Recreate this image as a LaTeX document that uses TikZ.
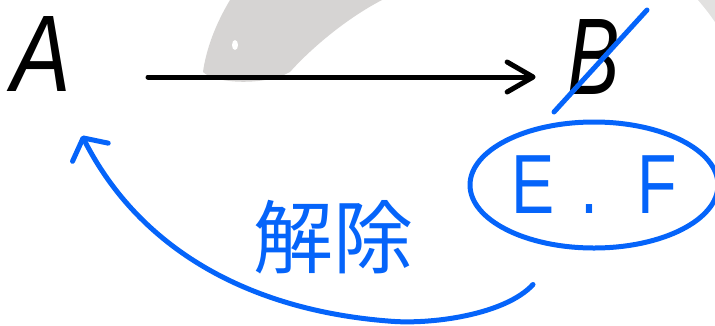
\documentclass[tikz,border=0pt]{standalone}
\usepackage{fontspec}
\setmainfont{Liberation Sans}
\newfontfamily\cjkfont{Noto Sans CJK JP}
\usetikzlibrary{arrows.meta,shapes.geometric,calc}
\definecolor{penblue}{RGB}{5,100,250}
\definecolor{bggrey}{RGB}{214,212,211}
\begin{document}
\begin{tikzpicture}[x=1pt,y=-1pt,
  pen/.style={line width=5pt, line cap=round, line join=round},
  bigletter/.style={inner sep=0pt, font=\itshape\fontsize{109}{109}\selectfont},
  barb/.style={-{Straight Barb[length=26pt,width=30pt,round]}}]
\useasboundingbox (0,0) rectangle (715,325);
% faint grey background shapes
\fill[bggrey] (230,0) .. controls (215,25) and (206,50) .. (203,72)
  .. controls (215,84) and (265,86) .. (290,72)
  .. controls (305,55) and (340,22) .. (382,0) -- cycle;
\fill[white] (235,45) ellipse [x radius=3, y radius=5];
\fill[bggrey!70] (698,0) -- (715,0) -- (715,22) .. controls (708,12) .. cycle;
% nodes
\node[bigletter] (A) at (41,54) {\scalebox{0.82}[1]{A}};
\node[bigletter] (B) at (594,57) {\scalebox{0.72}[1]{B}};
\node[ellipse, draw=penblue, line width=5pt, minimum width=248pt, minimum height=126pt,
      inner sep=0pt, text=penblue, font=\fontsize{84}{84}\selectfont] (EF) at (594,185)
      {\scalebox{0.77}[1]{E\hspace{34pt}.\hspace{50pt}F}};
\node[inner sep=0pt, text=penblue, font=\cjkfont\fontsize{80}{80}\selectfont] (L) at (333,237) {解除};
% strike through B
\coordinate (s1) at (554,112);
\coordinate (s2) at (647,10);
\draw[pen, penblue] (s1) -- (s2);
% A -> B
\draw[pen, barb] ([shift={(77,23)}]A.east) -- ([shift={(-32,20)}]B.west);
% E.F -> A
\draw[pen, penblue, -{Straight Barb[length=16pt,width=40pt,round]}]
  ([shift={(-61,34)}]EF.south) .. controls (505,315) and (430,325) .. (388,321)
  .. controls (250,310) and (140,250) .. ([shift={(41,44)}]A.south);
\end{tikzpicture}
\end{document}
